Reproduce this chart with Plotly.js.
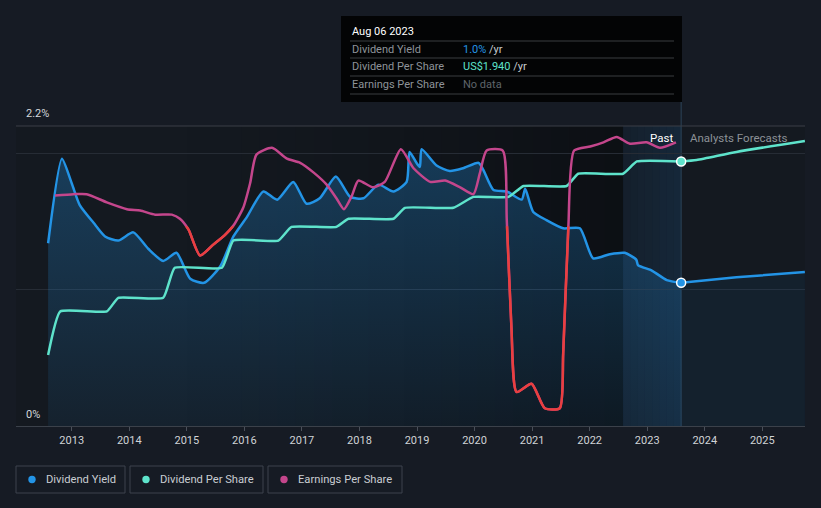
<!DOCTYPE html>
<html><head><meta charset="utf-8">
<script src="https://cdn.plot.ly/plotly-3.0.1.min.js"></script>
<style>html,body{margin:0;padding:0;background:#161b24;}#chart{width:821px;height:508px;}</style>
</head><body><div id="chart"></div>
<script>
// ---- data (decimal years) ----
const yieldYears = [2012.59,2012.83,2013.0,2013.14,2013.38,2013.58,2013.81,2014.07,2014.33,2014.59,2014.82,2015.06,2015.3,2015.58,2015.81,2016.04,2016.33,2016.57,2016.85,2017.08,2017.31,2017.59,2017.84,2018.07,2018.33,2018.59,2018.82,2018.87,2018.99,2019.05,2019.08,2019.34,2019.57,2019.8,2020.07,2020.15,2020.33,2020.56,2020.82,2020.88,2021.02,2021.25,2021.54,2021.83,2022.06,2022.35,2022.61,2022.81,2022.84,2023.08,2023.34,2023.59];
const yieldPct = [1.34,1.96,1.78,1.62,1.49,1.39,1.36,1.42,1.30,1.21,1.27,1.08,1.05,1.17,1.39,1.53,1.72,1.66,1.79,1.63,1.67,1.83,1.68,1.67,1.77,1.72,1.79,2.01,1.93,1.90,2.03,1.91,1.87,1.89,1.93,1.88,1.73,1.72,1.66,1.74,1.57,1.51,1.45,1.45,1.23,1.26,1.27,1.22,1.18,1.14,1.07,1.05];
const yieldFcYears = [2023.59,2024.55,2025.74];
const yieldFcPct = [1.05,1.09,1.13];

const dpsYears = [2012.59,2012.8,2013.61,2013.81,2014.59,2014.79,2015.61,2015.81,2016.59,2016.82,2017.6,2017.81,2018.59,2018.79,2019.63,2019.98,2020.59,2020.85,2021.6,2021.8,2022.58,2022.82,2023.59];
const dpsUSD = [0.52,0.84,0.84,0.94,0.94,1.16,1.16,1.36,1.36,1.46,1.46,1.52,1.52,1.60,1.60,1.68,1.68,1.76,1.76,1.85,1.85,1.94,1.94];
const dpsFcYears = [2023.59,2023.86,2024.55,2025.74];
const dpsFcUSD = [1.94,1.95,2.01,2.09];

const epsYears = [2012.71,2013.03,2013.26,2013.61,2013.96,2014.19,2014.45,2014.74,2014.88,2015.03,2015.23,2015.46,2015.66,2015.81,2015.98,2016.10,2016.21,2016.48,2016.74,2016.97,2017.20,2017.43,2017.60,2017.73,2017.87,2017.98,2018.24,2018.44,2018.72,2018.94,2019.23,2019.49,2019.75,2019.98,2020.09,2020.21,2020.49,2020.56,2020.64,2020.73,2020.99,2021.22,2021.48,2021.54,2021.63,2021.73,2022.01,2022.24,2022.47,2022.70,2022.99,2023.22,2023.50];
const epsScaled = [1.69,1.70,1.70,1.64,1.59,1.58,1.55,1.55,1.52,1.44,1.25,1.33,1.40,1.47,1.60,1.78,1.99,2.04,1.96,1.93,1.86,1.77,1.67,1.59,1.69,1.80,1.75,1.79,2.03,1.89,1.79,1.80,1.75,1.70,1.85,2.02,2.02,1.51,0.73,0.25,0.31,0.13,0.13,0.53,1.46,2.02,2.05,2.08,2.12,2.07,2.08,2.04,2.08];
const epsRedBelow = 1.465;

const yTickLabels = ['2.2%','0%'];
const xTickYears = [2013,2014,2015,2016,2017,2018,2019,2020,2021,2022,2023,2024,2025];
const legendNames = ['Dividend Yield','Dividend Per Share','Earnings Per Share'];

// ---- styling ----
const C_YIELD = '#2394e6', C_DPS = '#5ee3cb', C_EPS = '#c4468c', C_RED = '#ea3f3f';
const FONT = 'Roboto, "Open Sans", sans-serif';
const X0 = 2012.032, X1 = 2025.742, Y_MAX = 2.2, PAST = 2023.59, BAND0 = 2022.58;
const L = 16, R = 805, T = 126, B = 426;
const px = x => (x - L) / (R - L);
const py = y => (B - y) / (B - T);

const sp = {shape:'spline', smoothing:0.6};
const spStep = {shape:'spline', smoothing:0.4};
const traces = [
  {x: yieldFcYears, y: yieldFcPct, mode:'lines', line:Object.assign({color:C_YIELD, width:2.5}, sp),
   fill:'tozeroy', fillcolor:'rgba(35,148,230,0.07)', hoverinfo:'skip'},
  {x: yieldYears, y: yieldPct, mode:'lines', line:Object.assign({color:C_YIELD, width:2.5}, sp),
   fill:'tozeroy', fillgradient:{type:'vertical', start:0, stop:2,
     colorscale:[[0,'rgba(35,148,230,0.07)'],[1,'rgba(35,148,230,0.30)']]}, hoverinfo:'skip'},
  {x: dpsFcYears, y: dpsFcUSD, mode:'lines', line:Object.assign({color:C_DPS, width:2.5}, sp), hoverinfo:'skip'},
  {x: dpsYears, y: dpsUSD, mode:'lines', line:Object.assign({color:C_DPS, width:2.5}, spStep), hoverinfo:'skip'},
  {x: epsYears, y: epsScaled, yaxis:'y2', mode:'lines', line:Object.assign({color:C_EPS, width:2.5}, sp), hoverinfo:'skip'},
  {x: epsYears, y: epsScaled, yaxis:'y3', mode:'lines', line:Object.assign({color:C_RED, width:2.5}, sp), hoverinfo:'skip'},
  {x: [yieldYears[yieldYears.length-1]], y: [yieldPct[yieldPct.length-1]], mode:'markers',
   marker:{size:9, color:C_YIELD, line:{color:'#ffffff', width:1.5}}, hoverinfo:'skip'},
  {x: [dpsYears[dpsYears.length-1]], y: [dpsUSD[dpsUSD.length-1]], mode:'markers',
   marker:{size:9, color:C_DPS, line:{color:'#ffffff', width:1.5}}, hoverinfo:'skip'}
];

const shapes = [];
// plot background
shapes.push({type:'rect', xref:'paper', yref:'paper', x0:0, x1:1, y0:0, y1:1, layer:'below',
  line:{width:0}, fillcolor:'#141920'});
// darkening towards the recent past
const nStrips = 24;
for (let i = 0; i < nStrips; i++) {
  const a = 2015.0 + (BAND0 - 2015.0) * i / nStrips;
  const b = 2015.0 + (BAND0 - 2015.0) * (i + 1) / nStrips;
  shapes.push({type:'rect', xref:'x', yref:'paper', x0:a, x1:b, y0:0, y1:1, layer:'below',
    line:{width:0}, fillcolor:'rgba(0,0,0,' + (0.36 * Math.pow((i + 1) / nStrips, 1.3)).toFixed(3) + ')'});
}
// past highlight band
const nBand = 8;
for (let i = 0; i < nBand; i++) {
  const a = BAND0 + (PAST - BAND0) * i / nBand;
  const b = BAND0 + (PAST - BAND0) * (i + 1) / nBand;
  shapes.push({type:'rect', xref:'x', yref:'paper', x0:a, x1:b, y0:0, y1:1, layer:'below',
    line:{width:0}, fillcolor:'rgba(30,105,170,' + (0.08 + 0.10 * (i + 1) / nBand).toFixed(3) + ')'});
}
// top line (2.2%)
shapes.push({type:'line', xref:'paper', yref:'paper', x0:0, x1:1, y0:1, y1:1, line:{color:'#3a3f47', width:1}});
// vertical "now" line
shapes.push({type:'line', xref:'x', yref:'paper', x0:PAST, x1:PAST, y0:0, y1:py(16), layer:'below',
  line:{color:'#2c4359', width:1}});
// tooltip box
shapes.push({type:'rect', xref:'paper', yref:'paper', x0:px(341), x1:px(682), y0:py(102), y1:py(16),
  fillcolor:'#030405', line:{width:0}});
[41, 58, 76, 94].forEach(yy => shapes.push({type:'line', xref:'paper', yref:'paper', x0:px(350), x1:px(674),
  y0:py(yy), y1:py(yy), line:{color:'#3b3d40', width:1}}));
// legend boxes
const legBoxes = [[16,125],[130,263],[268,402]];
const legColors = [C_YIELD, C_DPS, C_EPS];
legBoxes.forEach((bx, i) => {
  shapes.push({type:'rect', xref:'paper', yref:'paper', x0:px(bx[0]), x1:px(bx[1]), y0:py(493), y1:py(466),
    line:{color:'#3d434c', width:1}, fillcolor:'rgba(0,0,0,0)'});
  const cx = bx[0] + 16, cy = 479.5, r = 3.7;
  shapes.push({type:'circle', xref:'paper', yref:'paper', x0:px(cx - r), x1:px(cx + r), y0:py(cy + r), y1:py(cy - r),
    fillcolor:legColors[i], line:{width:0}});
});

const ann = (x, y, text, color, size, anchor) => ({xref:'paper', yref:'paper', x:px(x), y:py(y), text:text,
  showarrow:false, xanchor:anchor || 'left', yanchor:'middle', font:{family:FONT, size:size || 11, color:color}});
const annotations = [
  ann(24, 114, yTickLabels[0], '#d5d8dc', 11),
  ann(24, 414, yTickLabels[1], '#d5d8dc', 11),
  ann(675, 138, 'Past', '#ffffff', 11.5, 'right'),
  ann(688, 138, 'Analysts Forecasts', '#8c9197', 11.5),
  ann(350, 31, 'Aug 06 2023', '#ffffff', 11),
  ann(350, 49, 'Dividend Yield', '#8e9399', 11),
  ann(350, 66, 'Dividend Per Share', '#8e9399', 11),
  ann(350, 84, 'Earnings Per Share', '#8e9399', 11),
  ann(461, 49, '<span style="color:' + C_YIELD + '">1.0%</span> /yr', '#c8ccd0', 11),
  ann(461, 66, '<span style="color:' + C_DPS + '">US$1.940</span> /yr', '#c8ccd0', 11),
  ann(461, 84, 'No data', '#5f646b', 11)
];
legBoxes.forEach((bx, i) => annotations.push(ann(bx[0] + 28, 479.5, legendNames[i], '#c9cdd2', 11.2)));

const layout = {
  width:821, height:508,
  margin:{l:L, r:821 - R, t:T, b:508 - B, pad:0},
  paper_bgcolor:'#161b24', plot_bgcolor:'rgba(0,0,0,0)',
  showlegend:false,
  font:{family:FONT, color:'#d0d3d6'},
  xaxis:{range:[X0, X1], tickvals:xTickYears, ticktext:xTickYears.map(String), ticks:'outside', ticklen:4,
    tickcolor:'#4a505a', showline:true, linecolor:'#3b414a', linewidth:1, showgrid:false, zeroline:false,
    tickfont:{family:FONT, size:11, color:'#d0d3d6'}, fixedrange:true},
  yaxis:{range:[0, Y_MAX], tickvals:[1, 2], showticklabels:false, gridcolor:'#262c35', gridwidth:1,
    zeroline:false, showline:false, fixedrange:true},
  yaxis2:{range:[0, Y_MAX], overlaying:'y', visible:false, fixedrange:true},
  yaxis3:{domain:[0, epsRedBelow / Y_MAX], range:[0, epsRedBelow], anchor:'x', visible:false, fixedrange:true},
  shapes:shapes, annotations:annotations
};
Plotly.newPlot('chart', traces, layout, {displayModeBar:false, staticPlot:true});
</script></body></html>
